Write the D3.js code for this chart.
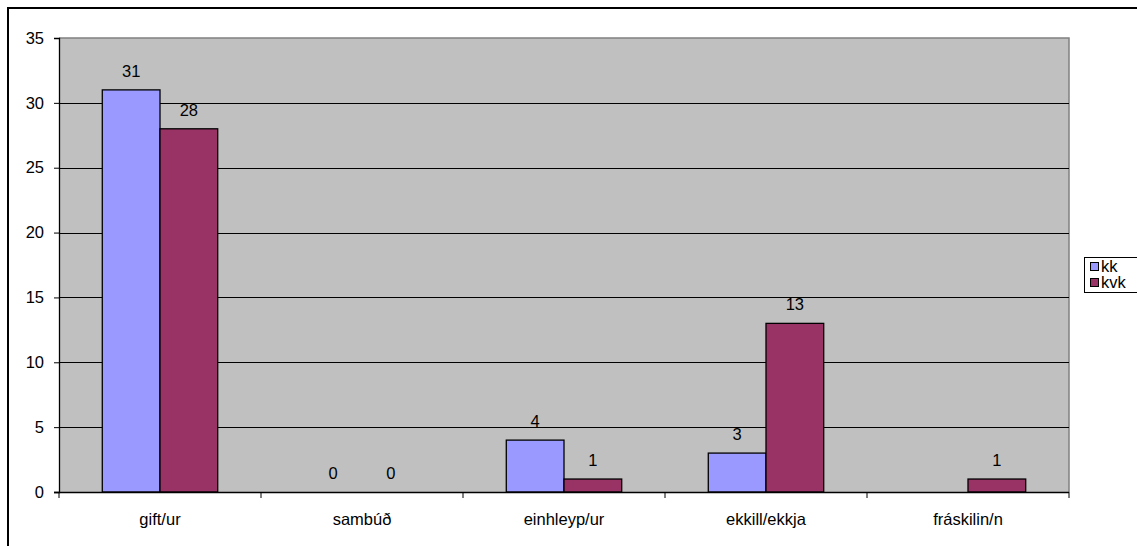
<!DOCTYPE html>
<html><head><meta charset="utf-8">
<script src="https://cdn.jsdelivr.net/npm/d3@7/dist/d3.min.js"></script>
<style>body{margin:0;background:#fff}svg{display:block}text{font-family:"Liberation Sans",Arial,sans-serif}</style>
</head><body>
<svg id="c" width="1137" height="546"></svg>
<script>
const categories = ["gift/ur", "sambúð", "einhleyp/ur", "ekkill/ekkja", "fráskilin/n"];
const seriesNames = ["kk", "kvk"];
const kkValues = [31, 0, 4, 3, null];
const kvkValues = [28, 0, 1, 13, 1];
const yTicks = [0, 5, 10, 15, 20, 25, 30, 35];
const colors = ["#9999FF", "#993366"];

const svg = d3.select("#c");
const L = 59, T = 38, R = 1069, B = 492;
const FS = 16.5;

// outer frame
svg.append("rect").attr("x", 8).attr("y", 8).attr("width", 1200).attr("height", 600)
  .attr("fill", "none").attr("stroke", "#000").attr("stroke-width", 2);

const x = d3.scaleBand().domain(categories).range([L, R]).paddingInner(0).paddingOuter(0);
const y = d3.scaleLinear().domain([0, 35]).range([B, T]);

svg.append("rect").attr("x", L).attr("y", T).attr("width", R - L).attr("height", B - T).attr("fill", "#C0C0C0");
svg.append("path").attr("d", `M${L},${T}H${R}V${B}`).attr("fill", "none").attr("stroke", "#808080").attr("stroke-width", 1.5);

// gridlines
svg.append("g").selectAll("line").data(yTicks.filter(d => d > 0 && d < 35)).join("line")
  .attr("x1", L).attr("x2", R).attr("y1", d => Math.round(y(d)) + 0.5).attr("y2", d => Math.round(y(d)) + 0.5)
  .attr("stroke", "#000").attr("stroke-width", 1);

// bars
const gap = 1.5;
const bw = x.bandwidth() / (2 + gap);
const series = [kkValues, kvkValues];
series.forEach((vals, si) => {
  const g = svg.append("g");
  const data = categories.map((c, i) => ({ c, v: vals[i] })).filter(d => d.v !== null);
  g.selectAll("rect").data(data.filter(d => d.v > 0)).join("rect")
    .attr("x", d => x(d.c) + bw * gap / 2 + si * bw)
    .attr("y", d => y(d.v))
    .attr("width", bw).attr("height", d => y(0) - y(d.v))
    .attr("fill", colors[si]).attr("stroke", "#000").attr("stroke-width", 1.3);
  g.selectAll("text").data(data).join("text")
    .attr("x", d => x(d.c) + bw * gap / 2 + si * bw + bw / 2)
    .attr("y", d => y(d.v) - 13)
    .attr("text-anchor", "middle").attr("font-size", FS).attr("fill", "#000")
    .text(d => d.v);
});

// y axis
const yAxis = d3.axisLeft(y).tickValues(yTicks).tickSize(5).tickPadding(10).tickFormat(d3.format("d"));
const ya = svg.append("g").attr("transform", `translate(${L},0)`).call(yAxis);
ya.select(".domain").attr("stroke", "#000").attr("stroke-width", 1.3);
ya.selectAll("text").attr("font-size", FS).attr("font-family", "Liberation Sans, Arial, sans-serif").attr("fill", "#000");

// x axis
const xa = svg.append("g").attr("transform", `translate(0,${B})`);
xa.append("line").attr("x1", L - 5).attr("x2", R).attr("y1", 0.5).attr("y2", 0.5).attr("stroke", "#000").attr("stroke-width", 1.3);
const bounds = categories.map(c => x(c)).concat([R]);
xa.selectAll("line.tk").data(bounds).join("line").attr("class", "tk")
  .attr("x1", d => d).attr("x2", d => d).attr("y1", 0).attr("y2", 6).attr("stroke", "#000");
xa.selectAll("text").data(categories).join("text")
  .attr("x", d => x(d) + x.bandwidth() / 2).attr("y", 33)
  .attr("text-anchor", "middle").attr("font-size", FS).attr("fill", "#000").text(d => d);

// legend
const lg = svg.append("g");
lg.append("rect").attr("x", 1084.5).attr("y", 257.5).attr("width", 60).attr("height", 35)
  .attr("fill", "#fff").attr("stroke", "#000").attr("stroke-width", 1);
seriesNames.forEach((n, i) => {
  lg.append("rect").attr("x", 1090.5).attr("y", 262.5 + i * 16).attr("width", 8).attr("height", 8)
    .attr("fill", colors[i]).attr("stroke", "#000");
  lg.append("text").attr("x", 1101).attr("y", 272 + i * 16).attr("font-size", FS).attr("fill", "#000").text(n);
});
</script>
</body></html>
